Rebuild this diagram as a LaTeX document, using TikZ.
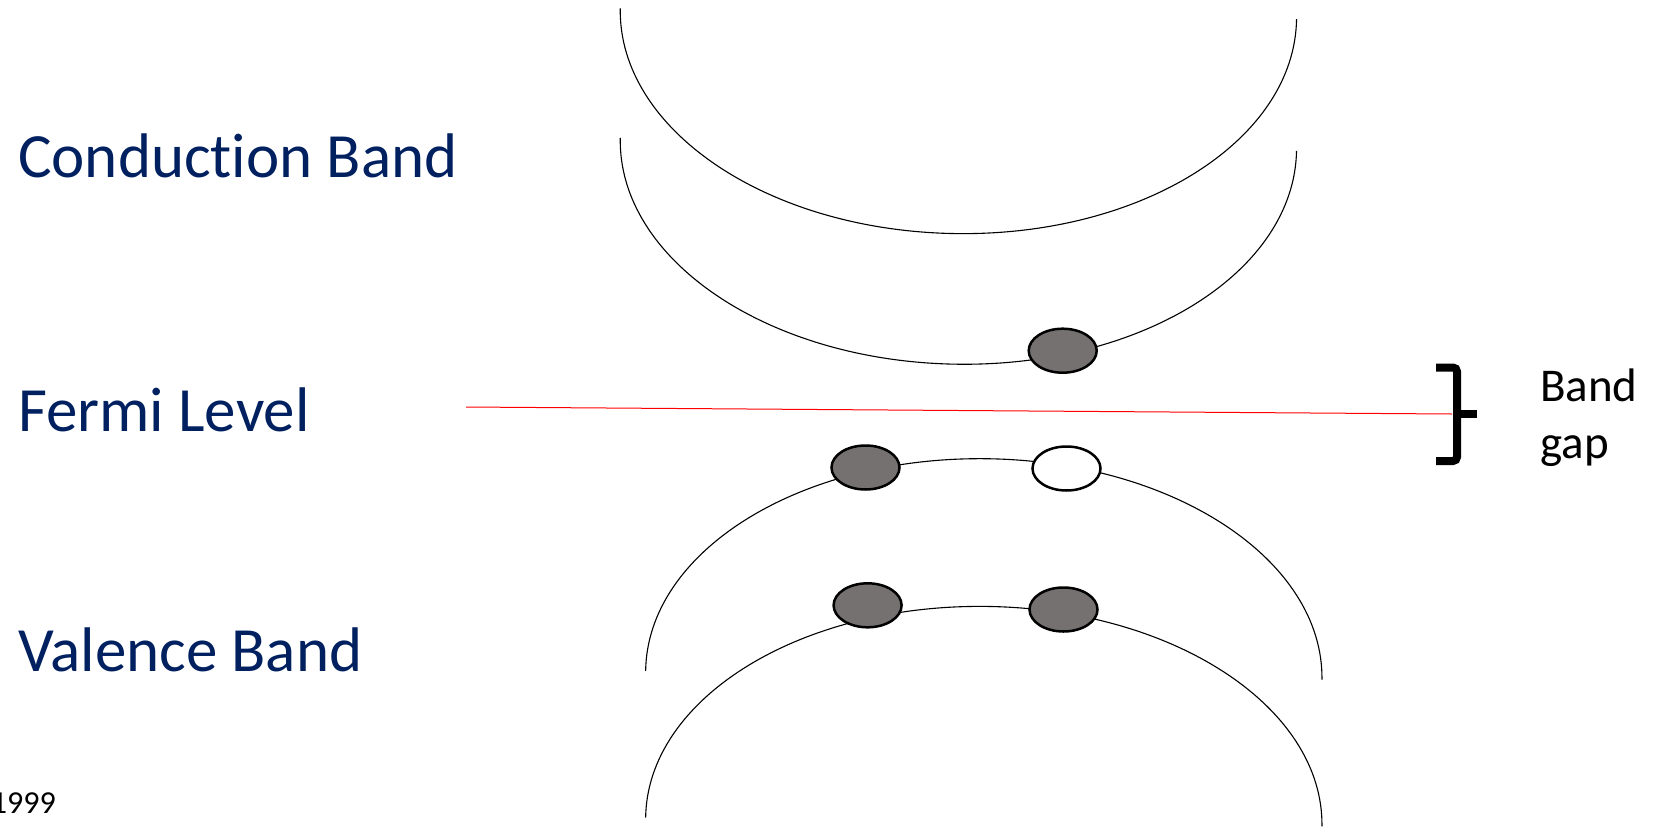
\documentclass[tikz,border=0pt]{standalone}
\usepackage{fontspec}
\setmainfont{Carlito}[Ligatures=NoCommon]
\usetikzlibrary{shapes.geometric}
\definecolor{navy}{RGB}{0,32,96}
\definecolor{carrier}{RGB}{118,113,113}
\tikzset{
  band/.style={draw=black, line width=1.1pt},
  electron/.style={ellipse, draw=black, line width=2.5pt, fill=carrier,
    minimum width=68pt, minimum height=44pt, inner sep=0pt},
  hole/.style={electron, fill=white},
  label/.style={anchor=base west, inner sep=0pt, text=navy,
    font=\fontsize{63}{75}\selectfont},
  note/.style={anchor=base west, inner sep=0pt, text=black,
    font=\fontsize{47}{56}\selectfont},
  fermi/.style={draw=red, line width=1pt},
  bracket/.style={draw=black, line width=8pt, rounded corners=4pt}
}
\begin{document}
\begin{tikzpicture}[x=1pt,y=1pt]
\useasboundingbox (0,0) rectangle (1665,-827);

% conduction band parabolas (opening upward)
\draw[band, rotate around={-0.9:(958.4,-13.8)}]
  (620.2,-13.8) arc[start angle=180, end angle=360, x radius=338.2pt, y radius=219.8pt];
\draw[band, rotate around={-1.1:(958.4,-144.4)}]
  (620.2,-144.4) arc[start angle=180, end angle=360, x radius=338.2pt, y radius=219.8pt];

% valence band parabolas (opening downward)
\draw[band, rotate around={-0.73:(983.8,-675.3)}]
  (645.6,-675.3) arc[start angle=180, end angle=0, x radius=338.2pt, y radius=216.6pt];
\draw[band, rotate around={-0.73:(983.8,-822)}]
  (645.6,-822) arc[start angle=180, end angle=0, x radius=338.2pt, y radius=215.6pt];

% carriers
\node[electron] (ce) at (1062.7,-350.7) {};
\node[electron] (v1) at (865.5,-467.5) {};
\node[hole]     (h1) at (1066.5,-468.5) {};
\node[electron] (v2) at (867.6,-605.3) {};
\node[electron] (v3) at (1063.5,-609.5) {};

% Fermi level
\coordinate (fstart) at (466,-407);
\coordinate (fend) at (1452,-414);
\draw[fermi] (fstart) -- (fend);

% band gap bracket
\draw[bracket] (1436,-367.5) -- (1457,-367.5) -- (1457,-461) -- (1436,-461);
\draw[draw=black, line width=8pt] (1455,-414) -- (1477,-414);

% labels
\node[label] (cb) at (18,-177) {Conduction Band};
\node[label] (fl) at (18,-431.5) {Fermi Level};
\node[label] (vb) at (18,-671.5) {Valence Band};
\node[note] (bg1) at (1540,-401) {Band};
\node[note] (bg2) at (1540,-458) {gap};
\node[anchor=base east, inner sep=0pt, font=\fontsize{32}{38}\selectfont] (yr) at (56,-813) {1999};
\end{tikzpicture}
\end{document}
